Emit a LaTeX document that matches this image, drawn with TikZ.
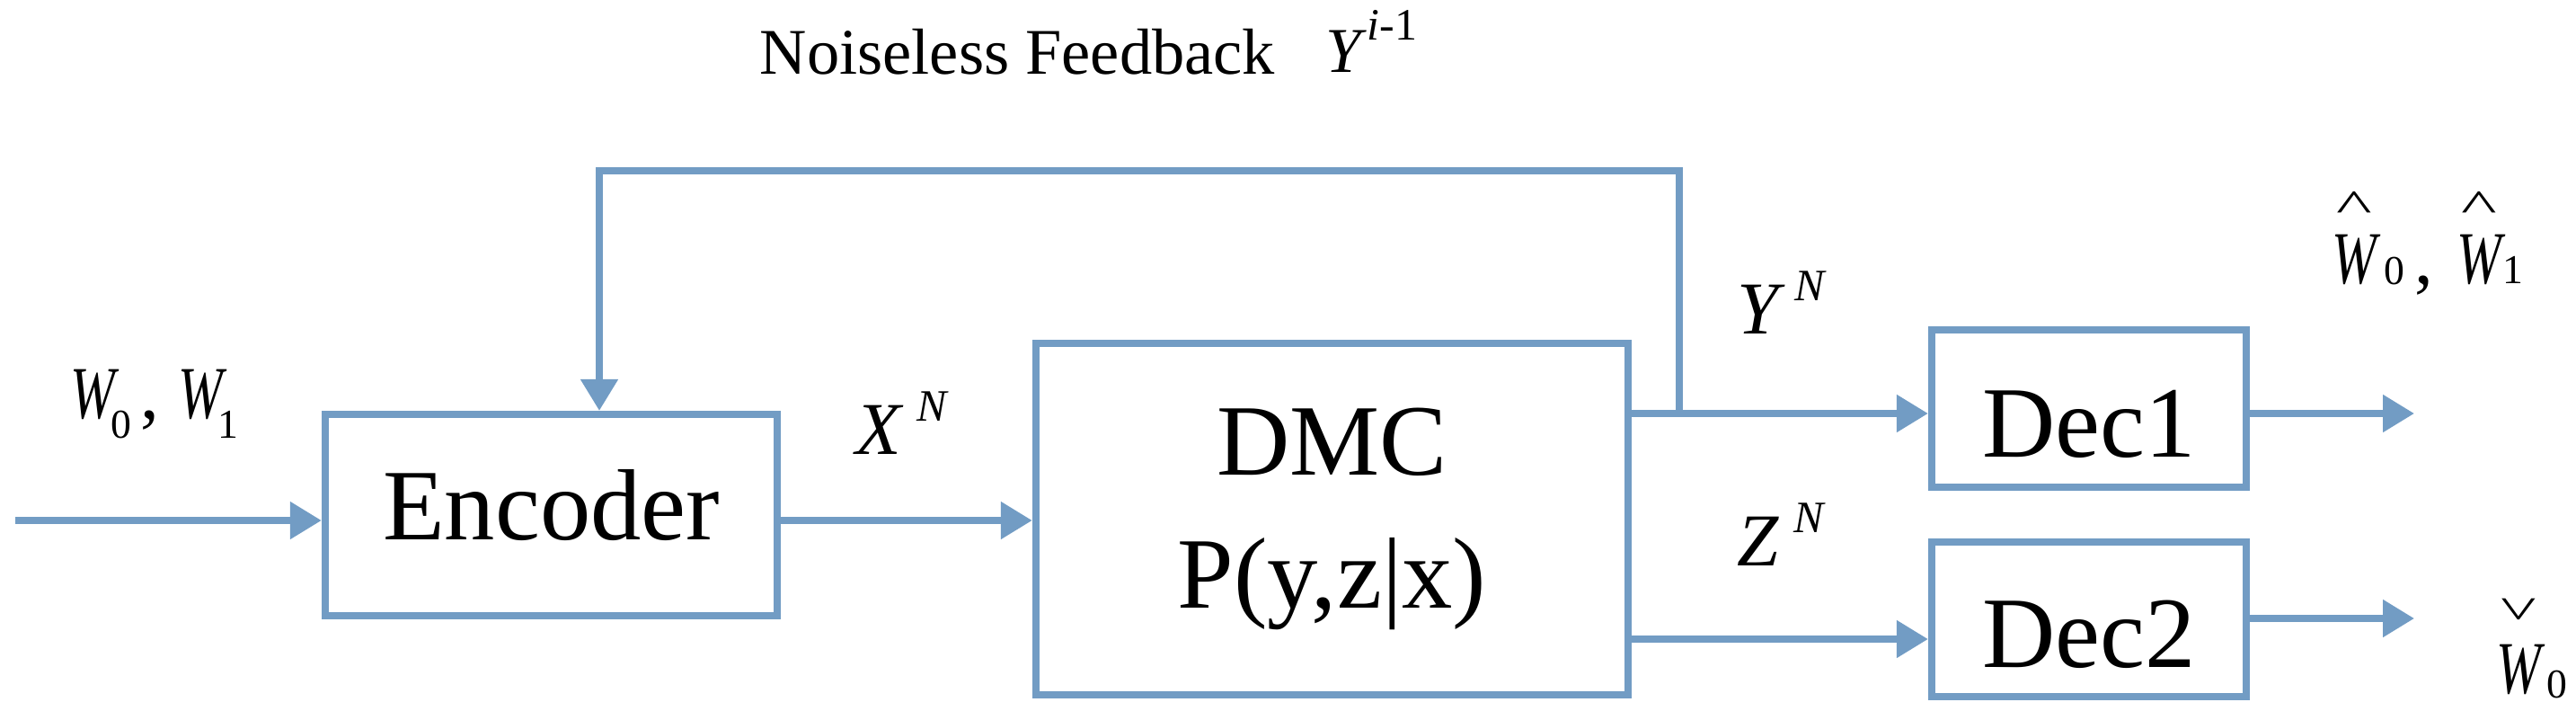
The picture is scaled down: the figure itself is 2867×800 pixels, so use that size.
\documentclass[tikz,border=0pt]{standalone}
\usepackage{fontspec}
\setmainfont{Liberation Serif}
\usetikzlibrary{arrows.meta}
\definecolor{bl}{RGB}{114,156,196}
\newcommand\Wn{\scalebox{0.72}[1]{\itshape W}}
\newcommand\lblf{\fontsize{23.6}{28}\selectfont}
\newcommand\smallf{\fontsize{13}{13}\selectfont}
\newcommand\supf{\fontsize{14.2}{14.2}\selectfont}
\newcommand\caretf{\fontsize{24}{24}\selectfont}
\newcommand\hatW{\makebox[0pt][l]{\makebox[14.2pt][c]{\raisebox{19.6pt}{\scalebox{1}[0.6]{\caretf\textasciicircum}}}}\Wn}
\newcommand\checkW{\makebox[0pt][l]{\makebox[14.2pt][c]{\raisebox{32.7pt}{\scalebox{1}[-0.6]{\caretf\textasciicircum}}}}\Wn}
\begin{document}
\begin{tikzpicture}[x=0.01cm,y=-0.01cm,
  box/.style={draw=bl, line width=0.08cm, inner sep=0pt, font=\fontsize{32}{42}\selectfont, align=center},
  conn/.style={draw=bl, line width=0.08cm},
  arr/.style={conn, -{Triangle[length=0.35cm,width=0.4cm]}},
  lab/.style={inner sep=0pt, anchor=base west, font=\lblf}]
\useasboundingbox (0,0) rectangle (2867,800);
% boxes
\node[box, minimum width=5.03cm, minimum height=2.24cm, text height=0.6cm, text depth=0.06cm] (enc) at (613.5,573) {Encoder};
\node[box, minimum width=6.59cm, minimum height=3.91cm] (dmc) at (1482.5,577.5) {DMC\\P(y,z|x)};
\node[box, minimum width=3.5cm, minimum height=1.75cm, text height=1.2cm, text depth=0.13cm] (dec1) at (2325,454.5) {Dec1};
\node[box, minimum width=3.5cm, minimum height=1.72cm, text height=1.2cm, text depth=0.13cm] (dec2) at (2325,689) {Dec2};
% connectors
\coordinate (in) at (17,579);
\draw[arr] (in) -- (in -| enc.west);
\draw[arr] (in -| enc.east) -- (in -| dmc.west);
\coordinate (yr) at (1869,460);
\draw[arr] (yr -| dmc.east) -- (yr -| dec1.west);
\coordinate (ft) at (667,190);
\draw[arr] (yr) |- (ft) -- (ft |- enc.north);
\coordinate (zr) at (1869,711);
\draw[arr] (zr -| dmc.east) -- (zr -| dec2.west);
\coordinate (o1) at (2687,460);
\draw[arr] (o1 -| dec1.east) -- (o1);
\coordinate (o2) at (2687,688);
\draw[arr] (o2 -| dec2.east) -- (o2);
% labels
\node[lab] (lw) at (78,465) {\Wn\kern-1.5pt\raisebox{-6.3pt}{\smallf 0}\kern3pt,\kern6pt\Wn\kern-1.5pt\raisebox{-6.3pt}{\smallf 1}};
\node[lab] (lx) at (952,505) {\textit{X}\kern4pt\raisebox{10.5pt}{\supf\itshape N}};
\node[lab] (ly) at (1933,371) {\textit{Y}\kern3pt\raisebox{10.3pt}{\supf\itshape N}};
\node[lab] (lz) at (1933,629) {\textit{Z}\kern4.5pt\raisebox{10.5pt}{\supf\itshape N}};
\node[lab, font=\fontsize{20.6}{24}\selectfont] (lfb) at (845,82) {Noiseless Feedback};
\node[lab, font=\fontsize{20.2}{24}\selectfont] (lyi) at (1475,80) {\textit{Y}\raisebox{10pt}{\supf\textit{i}-1}};
\node[lab] (lhat) at (2595,315) {\hatW\kern2.3pt\raisebox{-0.5pt}{\smallf 0}\kern3pt,\kern7.5pt\hatW\kern0.5pt{\smallf 1}};
\node[lab] (lchk) at (2778,771) {\checkW\kern1.7pt\raisebox{-1.7pt}{\smallf 0}};
\end{tikzpicture}
\end{document}
